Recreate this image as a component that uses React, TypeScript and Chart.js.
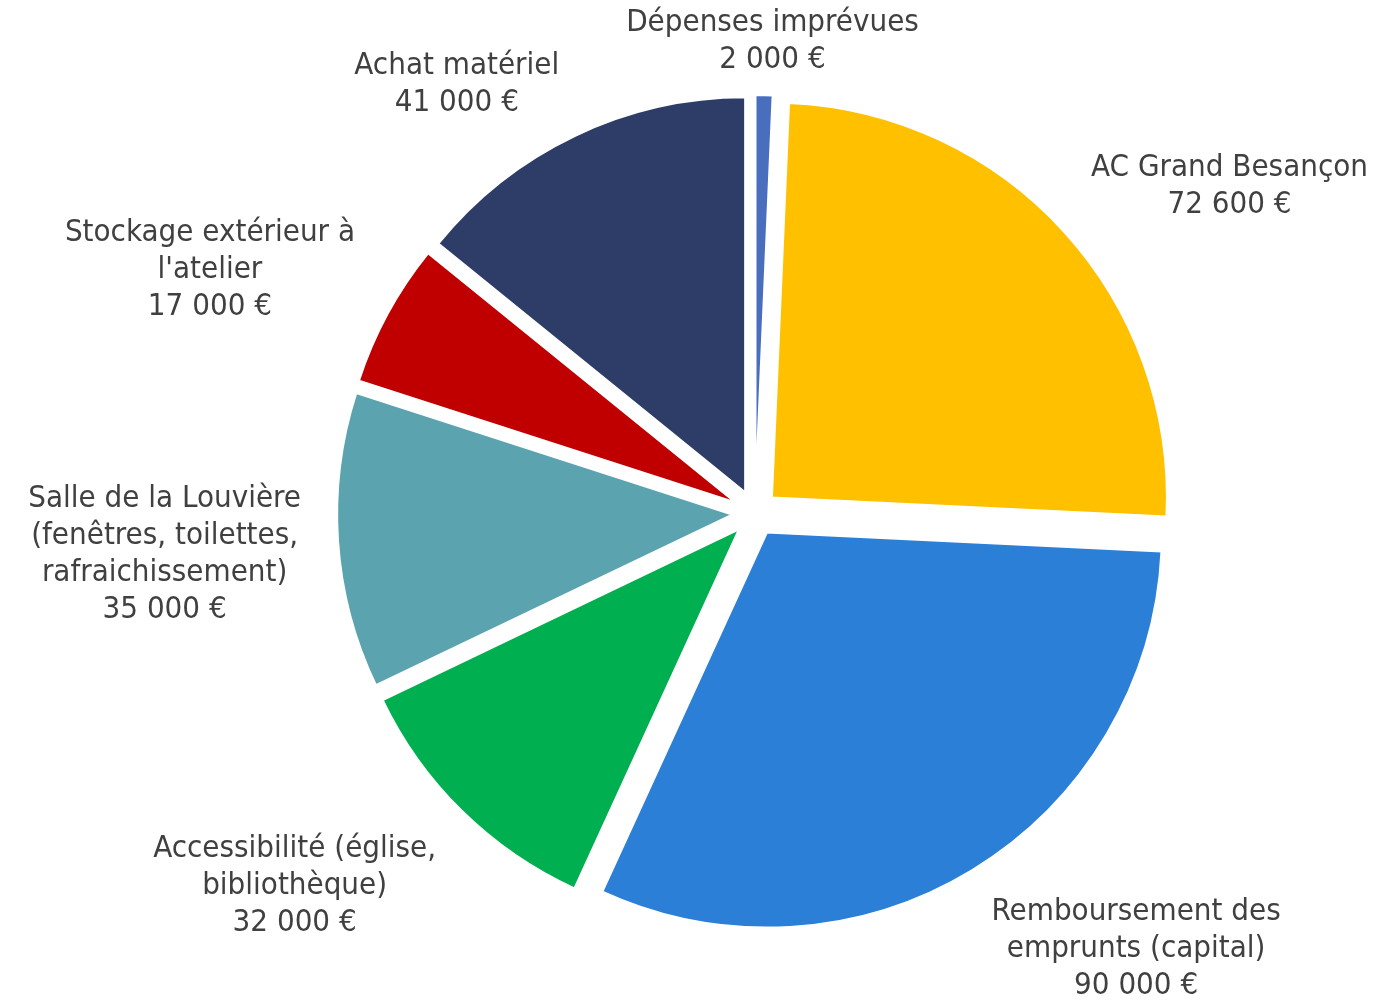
import React, { useEffect, useRef } from "react";
import { Chart, registerables } from "chart.js";

Chart.register(...registerables);

const categories: string[][] = [
  ["Dépenses imprévues"],
  ["AC Grand Besançon"],
  ["Remboursement des", "emprunts (capital)"],
  ["Accessibilité (église,", "bibliothèque)"],
  ["Salle de la Louvière", "(fenêtres, toilettes,", "rafraichissement)"],
  ["Stockage extérieur à", "l'atelier"],
  ["Achat matériel"],
];

const amounts: number[] = [2000, 72600, 90000, 32000, 35000, 17000, 41000];

const sliceColors: string[] = [
  "#4A6EBE",
  "#FFC000",
  "#2B7FD7",
  "#00B050",
  "#5BA3AF",
  "#C00000",
  "#2D3D67",
];

const EXPLODE = 0.058; // fraction of radius each slice is pulled out
const FONT = "31px 'DejaVu Sans Condensed', 'DejaVu Sans', sans-serif";
const LINE_H = 37;
const LABEL_DIST_X = 455;
const LABEL_DIST_Y = 445;
const TEXT_SHIFT = 5;

function formatEuro(v: number): string {
  const s = Math.round(v).toString();
  return s.replace(/\B(?=(\d{3})+(?!\d))/g, " ") + " €";
}

const explodePlugin = {
  id: "explodeSlices",
  beforeDatasetDraw(chart: any, args: any) {
    const ctx = chart.ctx as CanvasRenderingContext2D;
    const meta = args.meta;
    meta.data.forEach((arc: any) => {
      const { startAngle, endAngle, outerRadius } = arc.getProps(
        ["startAngle", "endAngle", "outerRadius"],
        true
      );
      const mid = (startAngle + endAngle) / 2;
      const d = EXPLODE * outerRadius;
      ctx.save();
      ctx.translate(Math.cos(mid) * d, Math.sin(mid) * d);
      arc.draw(ctx);
      ctx.restore();
    });
    return false;
  },
};

const labelPlugin = {
  id: "outsideLabels",
  afterDatasetsDraw(chart: any) {
    const ctx = chart.ctx as CanvasRenderingContext2D;
    const meta = chart.getDatasetMeta(0);
    ctx.save();
    ctx.font = FONT;
    ctx.fillStyle = "#404040";
    ctx.textAlign = "center";
    ctx.textBaseline = "middle";
    meta.data.forEach((arc: any, i: number) => {
      const { x, y, startAngle, endAngle } = arc.getProps(
        ["x", "y", "startAngle", "endAngle"],
        true
      );
      const mid = (startAngle + endAngle) / 2;
      const cos = Math.cos(mid);
      const sin = Math.sin(mid);
      const lines = [...categories[i], formatEuro(amounts[i])];
      const w = Math.max(...lines.map((l) => ctx.measureText(l).width));
      const h = lines.length * LINE_H;
      const boxH = h - 2 * TEXT_SHIFT;
      const clamp = (t: number) => Math.max(-1, Math.min(1, t));
      const px = x + LABEL_DIST_X * cos;
      const py = y + LABEL_DIST_Y * sin;
      const cx = px + (w / 2) * clamp(2.4 * cos);
      const cy = py + (boxH / 2) * clamp(1.5 * sin) + TEXT_SHIFT;
      lines.forEach((l, j) => {
        ctx.fillText(l, cx, cy - h / 2 + LINE_H * (j + 0.5));
      });
    });
    ctx.restore();
  },
};

export default function App() {
  const canvasRef = useRef<HTMLCanvasElement | null>(null);

  useEffect(() => {
    if (!canvasRef.current) return;
    const chart = new Chart(canvasRef.current, {
      type: "pie",
      data: {
        labels: categories.map((c) => c.join(" ")),
        datasets: [
          {
            data: amounts,
            backgroundColor: sliceColors,
            borderColor: "#FFFFFF",
            borderWidth: 2,
          },
        ],
      },
      options: {
        responsive: false,
        animation: false,
        layout: { padding: { top: 117, bottom: 91, left: 302, right: 166 } },
        plugins: {
          legend: { display: false },
          tooltip: { enabled: false },
        },
      },
      plugins: [explodePlugin, labelPlugin],
    });
    return () => chart.destroy();
  }, []);

  return (
    <div style={{ position: "absolute", left: 0, top: 0, width: 1374, height: 1000, background: "#fff" }}>
      <canvas ref={canvasRef} width={1374} height={1000} style={{ width: 1374, height: 1000 }} />
    </div>
  );
}
